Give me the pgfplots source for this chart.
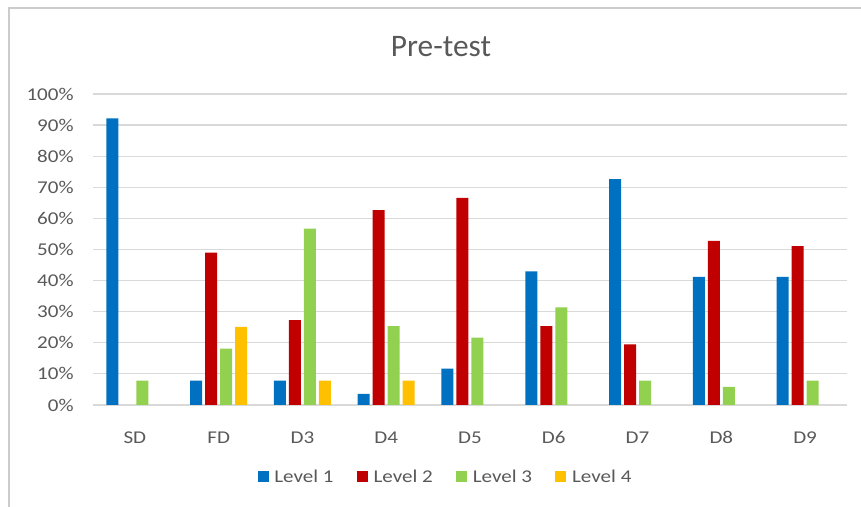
\documentclass[border=0pt]{standalone}
\usepackage{pgfplots}
\pgfplotsset{compat=1.18}
\usepackage{fontspec}
\setmainfont{Carlito}
\newfontfamily\tickfont{Carlito}[FakeStretch=1.17]
\definecolor{txt}{HTML}{595959}
\definecolor{gridc}{HTML}{D9D9D9}
\definecolor{framec}{HTML}{CBCBCB}
\definecolor{lone}{HTML}{0070C0}
\definecolor{ltwo}{HTML}{C00000}
\definecolor{lthree}{HTML}{92D050}
\definecolor{lfour}{HTML}{FFC000}
\begin{document}
\begin{tikzpicture}
\useasboundingbox (0pt,0pt) rectangle (645.75pt,380.25pt);
\draw[line width=1.5pt, color=framec] (6.375pt,-2pt) -- (6.375pt,373.875pt) -- (648pt,373.875pt);
\node[anchor=base, text=txt, font=\fontsize{23.5}{27}\selectfont, inner sep=0pt] at (330.75pt,337.5pt) {Pre-test};
\begin{axis}[
  at={(69.75pt,76.5pt)}, anchor=south west,
  scale only axis, width=565.5pt, height=233.25pt,
  xmin=-0.5, xmax=8.5, ymin=0, ymax=100,
  ybar=2.25pt, bar width=9pt,
  xtick={0,...,8},
  xticklabels={SD,FD,D3,D4,D5,D6,D7,D8,D9},
  ytick={0,10,...,100},
  yticklabels={0\%,10\%,20\%,30\%,40\%,50\%,60\%,70\%,80\%,90\%,100\%},
  axis line style={draw=none},
  major tick style={draw=none},
  ymajorgrids, major grid style={gridc, line width=0.9pt},
  tick label style={text=txt, font=\tickfont\fontsize{13.5}{16}\selectfont},
  yticklabel style={xshift=-11pt},
  xticklabel style={yshift=-11.5pt, text height=9.5pt, text depth=2.5pt},
  legend columns=4,
  legend style={at={(0.468,-0.2315)}, anchor=center, draw=none, fill=none,
    font=\tickfont\fontsize{13.5}{16}\selectfont, text=txt,
    /tikz/every even column/.append style={column sep=15.5pt}},
  legend image code/.code={\fill[#1] (0pt,-4pt) rectangle (8.25pt,4.25pt); \path (10.5pt,0pt);},
]
\addplot[fill=lone, draw=none] coordinates {(0,92.2) (1,7.8) (2,7.8) (3,3.6) (4,11.7) (5,43.0) (6,72.6) (7,41.2) (8,41.2)};
\addplot[fill=ltwo, draw=none] coordinates {(1,49.0) (2,27.3) (3,62.7) (4,66.6) (5,25.4) (6,19.5) (7,52.8) (8,51.1)};
\addplot[fill=lthree, draw=none] coordinates {(0,7.8) (1,18.1) (2,56.7) (3,25.4) (4,21.7) (5,31.4) (6,7.8) (7,5.8) (8,7.8)};
\addplot[fill=lfour, draw=none] coordinates {(1,25.1) (2,7.8) (3,7.8)};
\legend{Level 1, Level 2, Level 3, Level 4}
\end{axis}
\end{tikzpicture}
\end{document}
